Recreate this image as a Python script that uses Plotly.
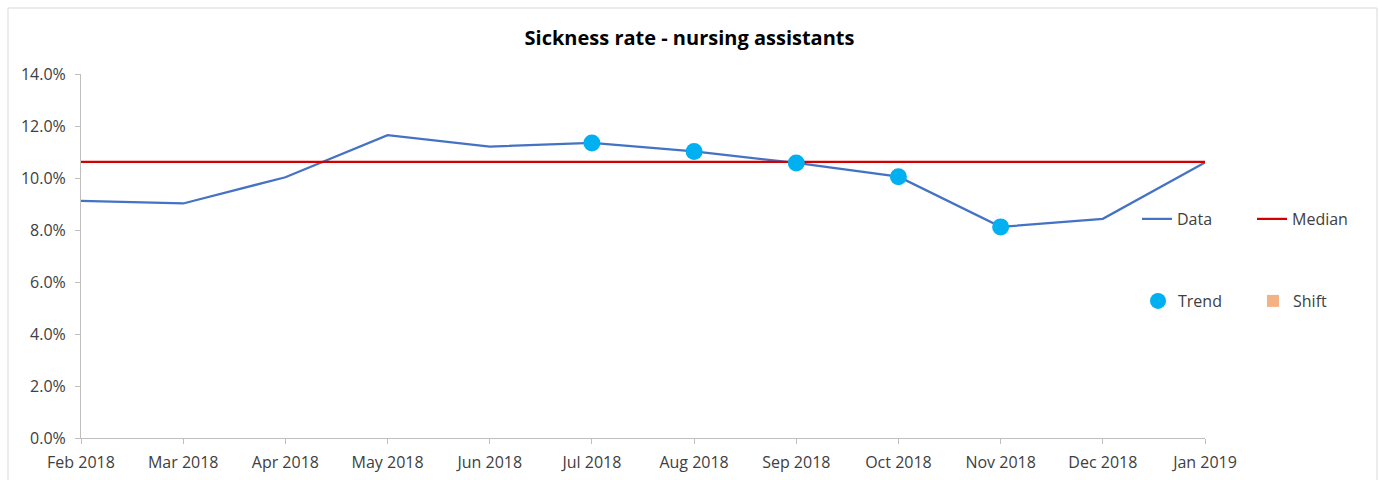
import plotly.graph_objects as go

months = ["Feb 2018", "Mar 2018", "Apr 2018", "May 2018", "Jun 2018", "Jul 2018",
          "Aug 2018", "Sep 2018", "Oct 2018", "Nov 2018", "Dec 2018", "Jan 2019"]
data_values = [0.0912, 0.0902, 0.1003, 0.1165, 0.1121, 0.1135,
               0.1102, 0.1058, 0.1005, 0.0812, 0.0843, 0.1060]
median_value = 0.1062
trend_months = ["Jul 2018", "Aug 2018", "Sep 2018", "Oct 2018", "Nov 2018"]
trend_values = [0.1135, 0.1102, 0.1058, 0.1005, 0.0812]
shift_months = [None]
shift_values = [None]
y_ticks = [0, 0.02, 0.04, 0.06, 0.08, 0.10, 0.12, 0.14]

FONT = "Open Sans"
TXT = "#404040"

fig = go.Figure()
fig.add_trace(go.Scatter(x=months, y=data_values, mode="lines", name="Data", showlegend=True,
                         line=dict(color="#4472C4", width=2.25), legend="legend"))
fig.add_trace(go.Scatter(x=months, y=[median_value] * len(months), mode="lines", name="Median",
                         showlegend=True,
                         line=dict(color="#D40000", width=2.25), legend="legend2"))
fig.add_trace(go.Scatter(x=trend_months, y=trend_values, mode="markers", name="Trend",
                         showlegend=True,
                         marker=dict(color="#00B0F0", size=17, symbol="circle"), legend="legend3"))
fig.add_trace(go.Scatter(x=shift_months, y=shift_values, mode="markers", name="Shift",
                         showlegend=True,
                         marker=dict(color="#F4B183", size=12, symbol="square"), legend="legend4"))

L, R, T, B = 81, 1205, 74, 438
W, H = R - L, B - T

def px(x):
    return (x - L) / W

def py(y):
    return (B - y) / H

leg_common = dict(font=dict(family=FONT, size=16, color=TXT), bgcolor="rgba(0,0,0,0)",
                  xanchor="left", yanchor="middle", visible=True)

fig.update_layout(
    width=1379, height=480,
    showlegend=True,
    margin=dict(l=L, r=1379 - R, t=T, b=480 - B, autoexpand=False),
    paper_bgcolor="white", plot_bgcolor="white",
    title=dict(text="<b>Sickness rate - nursing assistants</b>", x=0.5, xref="container",
               xanchor="center", y=1 - 38 / 480, yanchor="middle",
               font=dict(family=FONT, size=20, color="#000000")),
    xaxis=dict(type="category", categoryorder="array", categoryarray=months,
               range=[0, len(months) - 1], showgrid=False, showline=True,
               linecolor="#BFBFBF", linewidth=1, ticks="outside", ticklen=5,
               tickcolor="#BFBFBF", tickfont=dict(family=FONT, size=16, color=TXT),
               ticklabelstandoff=5, zeroline=False, automargin=False),
    yaxis=dict(range=[0, 0.14], tickvals=y_ticks, tickformat=".1%", showgrid=False,
               showline=True, linecolor="#BFBFBF", linewidth=1, ticks="outside",
               ticklen=5, tickcolor="#BFBFBF", tickfont=dict(family=FONT, size=16, color=TXT),
               ticklabelstandoff=6, zeroline=False, automargin=False),
    legend=dict(x=px(1137), y=py(219), **leg_common),
    legend2=dict(x=px(1252), y=py(219), **leg_common),
    legend3=dict(x=px(1138), y=py(301), **leg_common),
    legend4=dict(x=px(1253), y=py(301), **leg_common),
    shapes=[dict(type="rect", xref="paper", yref="paper",
                 x0=px(8), x1=px(1377), y0=py(490), y1=py(8),
                 line=dict(color="#D9D9D9", width=1), layer="below")],
)

fig.write_html("out.html")
